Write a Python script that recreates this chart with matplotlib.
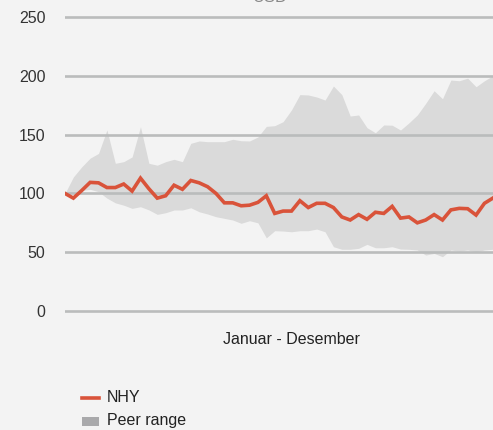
import matplotlib
matplotlib.use("Agg")
import matplotlib.pyplot as plt
import numpy as np

plt.rcParams["font.family"] = ["Liberation Sans", "DejaVu Sans"]

# weekly index values
nhy = [100, 96, 102.5, 109.4, 109, 105, 105, 108, 102, 113,
       104, 96, 98, 107, 103.5, 111, 109, 105.7, 100, 92,
       92, 89.5, 90, 92.4, 98, 83, 85, 85, 93.8, 88,
       91.6, 91.6, 88, 80, 77.4, 82, 78, 84, 83, 89,
       79, 80, 75, 77.4, 82, 77.4, 86, 87.3, 87, 81.6,
       91.6, 96]
peer_high = [100, 114, 122.6, 130, 134, 154, 125.6, 127, 131, 156.7,
             125.6, 124, 127, 129, 127, 142.6, 144.6, 144, 144, 144,
             146, 144.8, 144.6, 148, 157, 157.6, 161, 171, 184, 183.7,
             182, 179.4, 191.3, 184, 165.8, 166.7, 155.9, 151.6, 158.2, 158,
             153.9, 160, 166.7, 176.6, 187.3, 180.5, 196.4, 195.8, 198, 190.7,
             195.8, 200]
peer_low = [100, 101, 102.5, 103.5, 101.5, 96, 92, 90, 87.3, 88.7,
            86, 82.2, 83.6, 85.9, 85.9, 87.8, 84.4, 82.5, 80.2, 78.8,
            77.4, 74.6, 76.8, 75, 62.2, 68.3, 68, 67.4, 68.3, 68.3,
            69.7, 67.4, 54.7, 52.5, 52.5, 53.3, 56.7, 53.8, 53.8, 54.7,
            52.7, 52.5, 51.9, 47.6, 49, 46.2, 51.9, 51, 51.9, 50.4,
            51.9, 52.5]
y_ticks = [0, 50, 100, 150, 200, 250]

bg = "#f3f3f3"
weeks = np.arange(len(nhy))

fig = plt.figure(figsize=(4.93, 4.30), dpi=100, facecolor=bg)
# plot area runs past the right edge of the picture, as in the reference
ax = fig.add_axes([0.1318, 0.2493, 0.9172, 0.7385], facecolor=bg)

ax.fill_between(weeks, peer_low, peer_high, color="#dadada", linewidth=0, zorder=1)
for v in y_ticks:
    ax.axhline(v, color="#babcbc", linewidth=1.9, zorder=2)
ax.plot(weeks, nhy, color="#d9533a", linewidth=2.6, solid_joinstyle="miter", zorder=3)

ax.set_xlim(0, 53.9)
ax.set_ylim(-10, 260)
ax.set_yticks(y_ticks)
ax.set_xticks([])
ax.tick_params(axis="y", length=0, pad=14, labelsize=11.5, labelcolor="#333333")
for s in ax.spines.values():
    s.set_visible(False)

fig.text(270 / 493, 1 - 2 / 430, "USD", ha="center", va="baseline",
         fontsize=12, color="#888888")
fig.text(291 / 493, 1 - 340 / 430, "Januar - Desember", ha="center", va="center",
         fontsize=11.5, color="#222222")

# legend drawn by hand below the chart
fig.add_artist(plt.Line2D([82 / 493, 99 / 493], [1 - 398 / 430] * 2,
                          color="#d9533a", linewidth=2.6))
fig.text(107 / 493, 1 - 398 / 430, "NHY", ha="left", va="center",
         fontsize=11.5, color="#222222")
fig.add_artist(plt.Rectangle((82 / 493, 1 - 426 / 430), 17 / 493, 9 / 430,
                             color="#a9a9ab", linewidth=0))
fig.text(107 / 493, 1 - 421 / 430, "Peer range", ha="left", va="center",
         fontsize=11.5, color="#222222")

fig.savefig("out.png", dpi=100, facecolor=bg)
